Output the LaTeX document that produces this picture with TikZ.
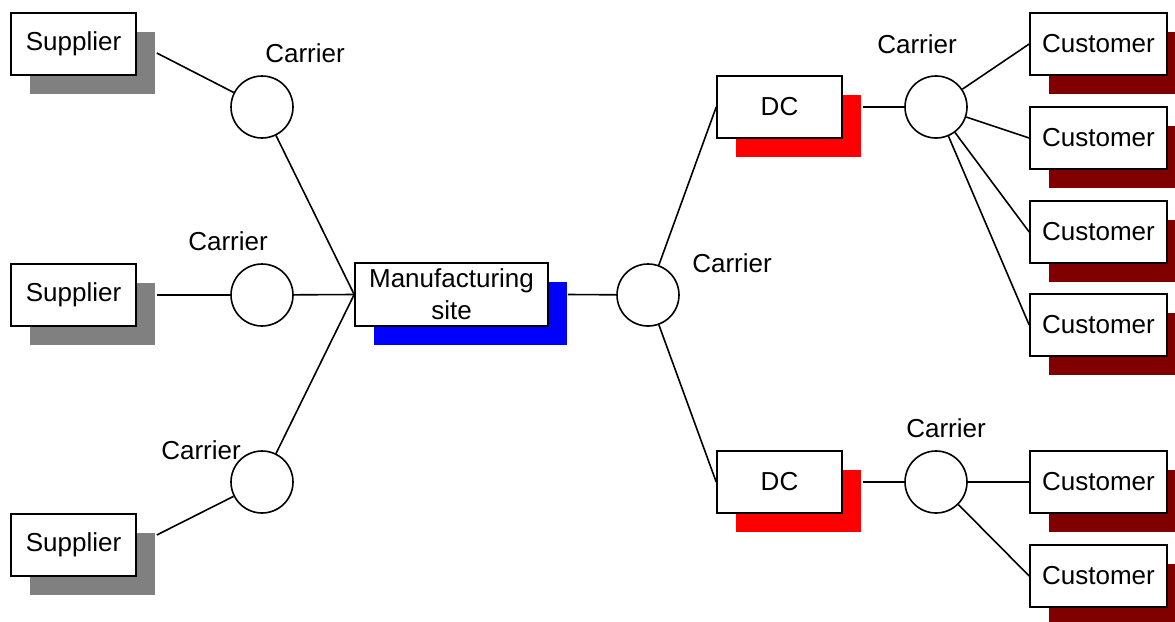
\documentclass[tikz,border=0pt]{standalone}
\usepackage{fontspec}
\setmainfont{Liberation Sans}
\usetikzlibrary{calc,shadows}
\definecolor{custred}{RGB}{128,0,0}
\begin{document}
\begin{tikzpicture}[x=1pt,y=-1pt,
  every node/.style={font=\fontsize{26}{32}\selectfont},
  box/.style={draw=black, line width=1.6pt, fill=white, inner sep=0pt,
    general shadow={fill=#1, shadow xshift=19pt, shadow yshift=-19pt}},
  supbox/.style={box=gray, minimum width=125pt, minimum height=62pt},
  dcbox/.style={box=red, minimum width=125pt, minimum height=62pt},
  custbox/.style={box=custred, minimum width=137pt, minimum height=62pt},
  mfgbox/.style={box=blue, minimum width=193pt, minimum height=63pt, align=center},
  hub/.style={circle, draw=black, line width=1.6pt, fill=white, inner sep=0pt, minimum size=62pt},
  link/.style={line width=1.6pt}]
\useasboundingbox (0,0) rectangle (1175,621);

% suppliers
\node[supbox] (s1) at (73.5,44) {Supplier};
\node[supbox] (s2) at (73.5,295) {Supplier};
\node[supbox] (s3) at (73.5,545) {Supplier};

% manufacturing site
\node[mfgbox] (mfg) at (451.5,294.5) {Manufacturing\\site};

% distribution centres
\node[dcbox] (dc1) at (779.5,107) {DC};
\node[dcbox] (dc2) at (779.5,482) {DC};

% customers
\foreach \i/\y in {1/44,2/138,3/232,4/325,5/482,6/576}
  \node[custbox] (k\i) at (1098.5,\y) {Customer};

% carriers
\node[hub] (c1) at (262,107) {};
\node[hub] (c2) at (262,295) {};
\node[hub] (c3) at (262,482) {};
\node[hub] (cm) at (648,295) {};
\node[hub] (cd1) at (936,107) {};
\node[hub] (cd2) at (936,482) {};

\node (lc1) at (305,53) {Carrier};
\node (lc2) at (228,241) {Carrier};
\node (lc3) at (201,450) {Carrier};
\node (lcm) at (732,263) {Carrier};
\node (lcd1) at (917,44) {Carrier};
\node (lcd2) at (946,428) {Carrier};

% connector ends on the shadow edges
\coordinate (s1o) at ($(s1.east)+(20,9)$);
\coordinate (s2o) at ($(s2.east)+(20,0)$);
\coordinate (s3o) at ($(s3.east)+(20,-10)$);
\coordinate (mfgo) at ($(mfg.east)+(19,0)$);
\coordinate (dc1o) at ($(dc1.east)+(20,0)$);
\coordinate (dc2o) at ($(dc2.east)+(20,0)$);

% inbound flows
\draw[link] (s1o) -- (c1);
\draw[link] (s2o) -- (c2);
\draw[link] (s3o) -- (c3);
\draw[link] (c1) -- (mfg.west);
\draw[link] (c2) -- (mfg.west);
\draw[link] (c3) -- (mfg.west);

% outbound flows
\draw[link] (mfgo) -- (cm);
\draw[link] (cm) -- (dc1.west);
\draw[link] (cm) -- (dc2.west);
\draw[link] (dc1o) -- (cd1);
\draw[link] (dc2o) -- (cd2);
\foreach \i in {1,2,3,4}
  \draw[link] (cd1) -- (k\i.west);
\foreach \i in {5,6}
  \draw[link] (cd2) -- (k\i.west);
\end{tikzpicture}
\end{document}
